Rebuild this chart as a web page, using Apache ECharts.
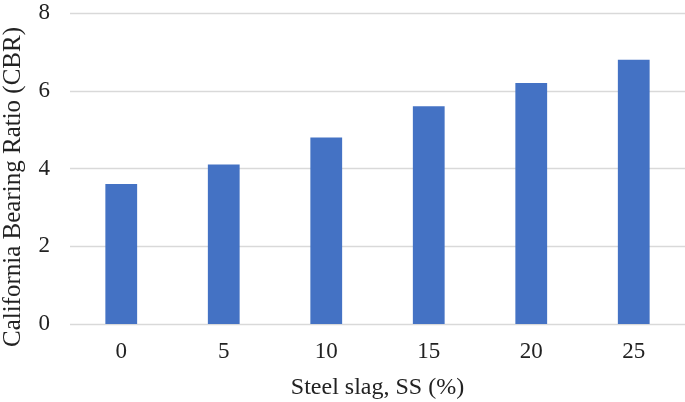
<!DOCTYPE html>
<html><head><meta charset="utf-8">
<script src="https://cdn.jsdelivr.net/npm/echarts@6/dist/echarts.min.js"></script>
<style>html,body{margin:0;padding:0;background:#fff}#c{width:685px;height:402px}</style>
</head><body><div id="c"></div>
<script>
const categories = ['0','5','10','15','20','25'];
const cbrValues = [3.6, 4.1, 4.8, 5.6, 6.2, 6.8];
const yTicks = [0, 2, 4, 6, 8];
const xTitle = 'Steel slag, SS (%)';
const yTitle = 'California Bearing Ratio (CBR)';

const chart = echarts.init(document.getElementById('c'), null, {renderer:'canvas'});
const font = 'Liberation Serif';
chart.setOption({
  animation:false,
  grid:{left:70, right:0, top:13, bottom:78, containLabel:false, outerBoundsMode:'none'},
  xAxis:{type:'category', data:categories,
    axisLine:{show:false}, axisTick:{show:false},
    axisLabel:{fontFamily:font, fontSize:23, color:'#222', margin:16},
    name:xTitle, nameLocation:'middle', nameGap:52,
    nameTextStyle:{fontFamily:font, fontSize:24, color:'#222'}},
  yAxis:{type:'value', min:yTicks[0], max:yTicks[yTicks.length-1], interval:2,
    axisLine:{show:false}, axisTick:{show:false},
    axisLabel:{fontFamily:font, fontSize:23, color:'#222', margin:20},
    splitLine:{lineStyle:{color:'#d9d9d9', width:1.3}}},
  graphic:[{type:'text', x:13, y:187, rotation:Math.PI/2,
    style:{text:yTitle, fontFamily:font, fontSize:25, fill:'#222',
      align:'center', verticalAlign:'middle'}}],
  series:[{type:'bar', data:cbrValues, barWidth:'31%',
    itemStyle:{color:'#4472C4'}}]
});
</script></body></html>
